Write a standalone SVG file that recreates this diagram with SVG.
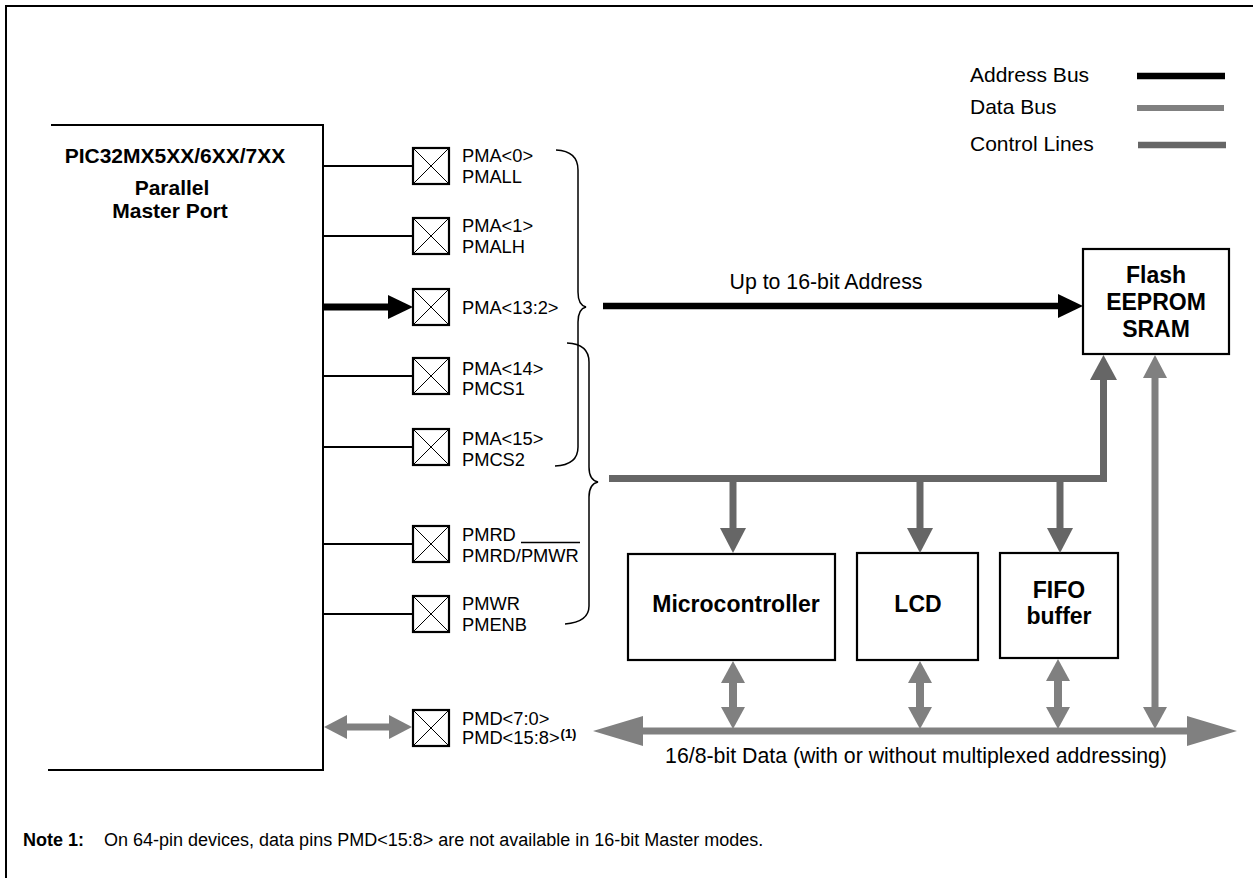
<svg xmlns="http://www.w3.org/2000/svg" width="1253" height="878" viewBox="0 0 1253 878">
<style>
text{font-family:"Liberation Sans",Arial,sans-serif;fill:#000}
.b{font-weight:bold}
.pin{font-size:18.3px}
.lg{font-size:21px}
.bus{font-size:21.3px;text-anchor:middle}
.ttl{font-size:23px;font-weight:bold;text-anchor:middle}
.pic{font-size:21px;font-weight:bold;text-anchor:middle}
.frame{fill:none;stroke:#000;stroke-width:2}
.box{fill:#fff;stroke:#000;stroke-width:2.2}
.thin{stroke:#000;stroke-width:2;fill:none}
.x{stroke:#000;stroke-width:1}
.brace{stroke:#000;stroke-width:1.5;fill:none}
.adr{stroke:#000;stroke-width:6.5;fill:none}
.adrh{fill:#000}
.ctl{stroke:#666;stroke-width:7;fill:none}
.ctlh{fill:#666}
.dat{stroke:#808080;stroke-width:7;fill:none}
.dath{fill:#808080}
</style>
<defs>
<g id="pinbox"><rect x="0" y="0" width="36" height="36" class="box"/><path d="M0 0L36 36M36 0L0 36" class="x"/></g>
</defs>
<rect x="6" y="6" width="1270" height="900" class="frame"/>

<g id="legend">
<text x="970" y="82" class="lg">Address Bus</text>
<text x="970" y="114" class="lg">Data Bus</text>
<text x="970" y="151" class="lg">Control Lines</text>
<line x1="1137" y1="76" x2="1225" y2="76" class="adr"/>
<line x1="1137" y1="108" x2="1224" y2="108" class="dat" style="stroke-width:6"/>
<line x1="1138" y1="145" x2="1226" y2="145" class="ctl" style="stroke-width:6.5"/>
</g>

<g id="pic32">
<path d="M51 125H323V770H48" class="thin"/>
<text x="175" y="163" class="pic">PIC32MX5XX/6XX/7XX</text>
<text x="172" y="195" class="pic">Parallel</text>
<text x="170" y="218" class="pic">Master Port</text>
</g>

<g id="pin-pma0">
<line x1="322" y1="166" x2="413" y2="166" class="thin"/>
<use href="#pinbox" x="413" y="148"/>
<text x="462" y="162" class="pin">PMA&lt;0&gt;</text>
<text x="462" y="183" class="pin">PMALL</text>
</g>
<g id="pin-pma1">
<line x1="322" y1="236" x2="413" y2="236" class="thin"/>
<use href="#pinbox" x="413" y="218"/>
<text x="462" y="232" class="pin">PMA&lt;1&gt;</text>
<text x="462" y="253" class="pin">PMALH</text>
</g>
<g id="pin-pma13">
<use href="#pinbox" x="413" y="289"/>
<text x="462" y="314" class="pin">PMA&lt;13:2&gt;</text>
</g>
<g id="pin-pma14">
<line x1="322" y1="376" x2="413" y2="376" class="thin"/>
<use href="#pinbox" x="413" y="358"/>
<text x="462" y="375" class="pin">PMA&lt;14&gt;</text>
<text x="462" y="395" class="pin">PMCS1</text>
</g>
<g id="pin-pma15">
<line x1="322" y1="447" x2="413" y2="447" class="thin"/>
<use href="#pinbox" x="413" y="429"/>
<text x="462" y="445" class="pin">PMA&lt;15&gt;</text>
<text x="462" y="466" class="pin">PMCS2</text>
</g>
<g id="pin-pmrd">
<line x1="322" y1="544" x2="413" y2="544" class="thin"/>
<use href="#pinbox" x="413" y="526"/>
<text x="462" y="541" class="pin">PMRD</text>
<text x="462" y="562" class="pin">PMRD/PMWR</text>
<line x1="521" y1="542.5" x2="580" y2="542.5" stroke="#000" stroke-width="1.3"/>
</g>
<g id="pin-pmwr">
<line x1="322" y1="614" x2="413" y2="614" class="thin"/>
<use href="#pinbox" x="413" y="596"/>
<text x="462" y="610" class="pin">PMWR</text>
<text x="462" y="631" class="pin">PMENB</text>
</g>
<g id="pin-pmd">
<use href="#pinbox" x="413" y="710"/>
<text x="462" y="725" class="pin">PMD&lt;7:0&gt;</text>
<text x="462" y="744" class="pin">PMD&lt;15:8&gt;<tspan class="b" style="font-size:13px" dx="1" dy="-6">(1)</tspan></text>
</g>

<g id="braces">
<path d="M556 150Q578 151 578 170V292Q578 305 586 307Q578 309 578 322V447Q578 465 555 466" class="brace"/>
<path d="M567 343Q589 344 589 362V467Q589 480 598 482Q589 484 589 497V606Q589 622 565 624" class="brace"/>
</g>

<g id="flash">
<rect x="1083" y="249" width="146" height="105" class="box"/>
<text x="1156" y="283" class="ttl">Flash</text>
<text x="1156" y="310" class="ttl">EEPROM</text>
<text x="1156" y="337" class="ttl">SRAM</text>
</g>
<g id="mcu">
<rect x="628" y="554" width="207" height="106" class="box"/>
<text x="736" y="612" class="ttl">Microcontroller</text>
</g>
<g id="lcd">
<rect x="857" y="553" width="121" height="107" class="box"/>
<text x="918" y="612" class="ttl">LCD</text>
</g>
<g id="fifo">
<rect x="1000" y="553" width="118" height="105" class="box"/>
<text x="1059" y="598" class="ttl">FIFO</text>
<text x="1059" y="624" class="ttl">buffer</text>
</g>

<g id="connectors">
<line x1="322" y1="307" x2="392" y2="307" class="adr" style="stroke-width:7"/>
<polygon points="388,295 413,307 388,319" class="adrh"/>
<line x1="603" y1="306" x2="1062" y2="306" class="adr"/>
<polygon points="1058,294 1083,306 1058,318" class="adrh"/>
<text x="826" y="289" class="bus">Up to 16-bit Address</text>
<path d="M609 478.5H1103.5V378" class="ctl" style="stroke-linejoin:miter"/>
<polygon points="1090,380 1103.5,355 1117,380" class="ctlh"/>
<line x1="733" y1="478" x2="733" y2="531" class="ctl"/>
<polygon points="720,528 733,553 746,528" class="ctlh"/>
<line x1="920" y1="478" x2="920" y2="531" class="ctl"/>
<polygon points="907,528 920,553 933,528" class="ctlh"/>
<line x1="1060" y1="478" x2="1060" y2="531" class="ctl"/>
<polygon points="1047,528 1060,553 1073,528" class="ctlh"/>
<line x1="640" y1="731" x2="1190" y2="731" class="dat"/>
<polygon points="643,716 593,731 643,746" class="dath"/>
<polygon points="1187,716 1237,731 1187,746" class="dath"/>
<line x1="1155" y1="376" x2="1155" y2="710" class="dat"/>
<polygon points="1143,378 1155,355 1167,378" class="dath"/>
<polygon points="1143,707 1155,729 1167,707" class="dath"/>
<line x1="733" y1="681" x2="733" y2="709" class="dat" style="stroke-width:8"/>
<polygon points="721,683 733,661 745,683" class="dath"/>
<polygon points="721,707 733,729 745,707" class="dath"/>
<line x1="920" y1="681" x2="920" y2="709" class="dat" style="stroke-width:8"/>
<polygon points="908,683 920,661 932,683" class="dath"/>
<polygon points="908,707 920,729 932,707" class="dath"/>
<line x1="1058" y1="681" x2="1058" y2="709" class="dat" style="stroke-width:8"/>
<polygon points="1046,681 1058,659 1070,681" class="dath"/>
<polygon points="1046,707 1058,729 1070,707" class="dath"/>
<line x1="345" y1="727" x2="391" y2="727" class="dat"/>
<polygon points="347,715 324,727 347,739" class="dath"/>
<polygon points="389,715 412,727 389,739" class="dath"/>
<text x="916" y="763" class="bus">16/8-bit Data (with or without multiplexed addressing)</text>
</g>

<g id="note">
<text x="23" y="846" class="b" style="font-size:18px">Note<tspan x="68">1:</tspan></text>
<text x="104" y="846" style="font-size:18px">On 64-pin devices, data pins PMD&lt;15:8&gt; are not available in 16-bit Master modes.</text>
</g>
</svg>
